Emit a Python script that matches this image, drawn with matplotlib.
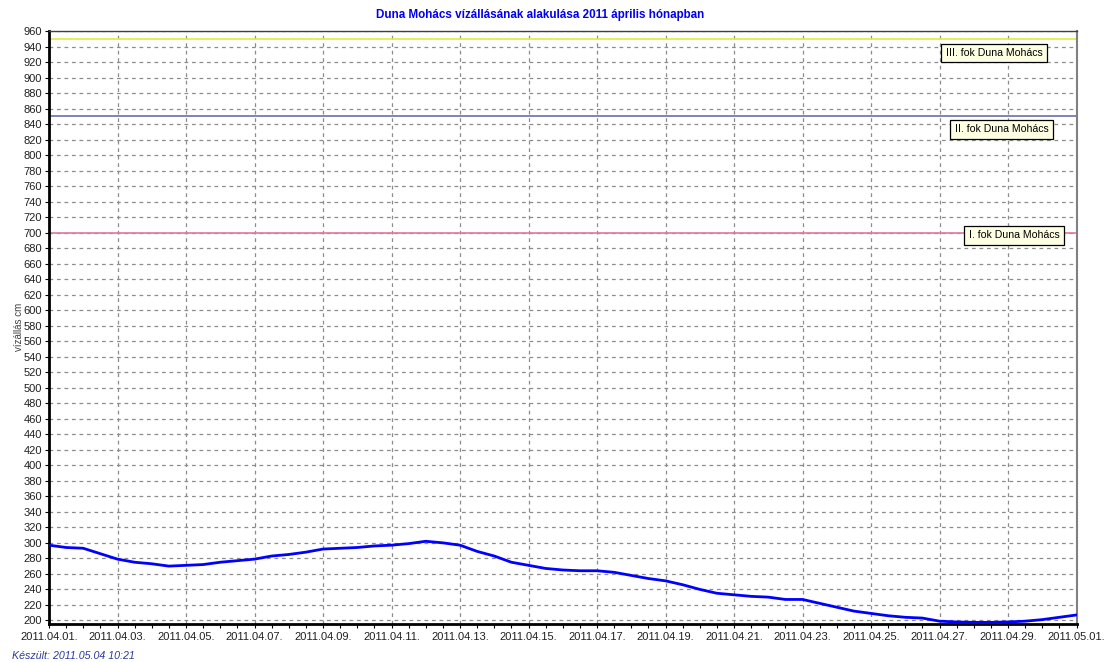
import matplotlib
matplotlib.use("Agg")
import matplotlib.pyplot as plt
import matplotlib.dates as mdates
import numpy as np
import pandas as pd

# ---- data ----
start = "2011-04-01"
step_hours = 12
levels = [297, 294, 293, 286, 279, 275, 273, 270, 271, 272,
          275, 277, 279, 283, 285, 288, 292, 293, 294, 296,
          297, 299, 302, 300, 297, 289, 283, 275, 271, 267,
          265, 264, 264, 262, 258, 254, 251, 246, 240, 235,
          233, 231, 230, 227, 227, 222, 217, 212, 209, 206,
          204, 203, 199, 198, 197.5, 197.5, 198, 199, 201, 204,
          207]
thresholds = [950, 850, 700]
threshold_labels = ["III. fok Duna Mohács", "II. fok Duna Mohács", "I. fok Duna Mohács"]
threshold_colors = ["#dcee3c", "#6870a8", "#e07898"]
title = "Duna Mohács vízállásának alakulása 2011 április hónapban"
ylabel = "vízállás cm"
footer = "Készült: 2011.05.04 10:21"

times = pd.date_range(start, periods=len(levels), freq=f"{step_hours}h")
xticks = pd.date_range("2011-04-01", "2011-05-01", freq="2D")

fig = plt.figure(figsize=(11.07, 6.62), dpi=100)
plt.rcParams['font.family'] = ['Liberation Sans', 'DejaVu Sans']
ax = fig.add_axes([49/1107, 1 - 623.5/662, (1076.5 - 49)/1107, (623.5 - 31)/662])

ax.set_xlim(times[0], times[-1])
ax.set_ylim(196, 960)

# grid
ax.set_yticks(np.arange(200, 961, 20))
ax.set_xticks(xticks)
ax.xaxis.set_major_formatter(mdates.DateFormatter("%Y.%m.%d."))
ax.xaxis.set_minor_locator(mdates.HourLocator(byhour=[0, 12]))
ax.grid(True, which="major", color="#8c8c8c", linestyle=(0, (3, 3)), linewidth=0.9)
ax.set_axisbelow(True)

# threshold lines
for val, col in zip(thresholds, threshold_colors):
    ax.axhline(val, color=col, linewidth=1.2, zorder=2)

# level line
ax.plot(times, levels, color="#0000ff", linewidth=2.0, zorder=3)

# threshold labels
label_pos = [(994, 53), (1001.5, 129.5), (1014, 235.5)]
for (px, py), txt in zip(label_pos, threshold_labels):
    fig.text(px/1107, 1 - py/662, txt, ha="center", va="center", fontsize=7.6,
             color="black", zorder=5,
             bbox=dict(boxstyle="square,pad=0.42", facecolor="#ffffe4",
                       edgecolor="black", linewidth=0.9))

# spines
ax.spines["left"].set_linewidth(2)
ax.spines["left"].set_color("black")
ax.spines["bottom"].set_linewidth(2)
ax.spines["bottom"].set_color("black")
ax.spines["top"].set_color("#404040")
ax.spines["top"].set_linewidth(1)
ax.spines["right"].set_color("#808080")
ax.spines["right"].set_linewidth(1.5)

ax.tick_params(axis="both", which="major", labelsize=8, labelcolor="#202020",
               length=3, width=0.8, pad=2)
ax.tick_params(axis="x", which="minor", length=3, width=0.8)
ax.tick_params(axis="x", which="major", pad=3)

ax.set_ylabel(ylabel, fontsize=7, color="#404040")
ax.yaxis.set_label_coords((23.5 - 49) / 1027.5, 0.5)

fig.text(540/1107, 1 - 15/662, title, ha="center", va="center",
         fontsize=8.4, fontweight="bold", color="#0000ee")
fig.text(12/1107, 1 - 656/662, footer, ha="left", va="center",
         fontsize=7.7, style="italic", color="#2a3a9a")

fig.savefig("out.png", dpi=100)
